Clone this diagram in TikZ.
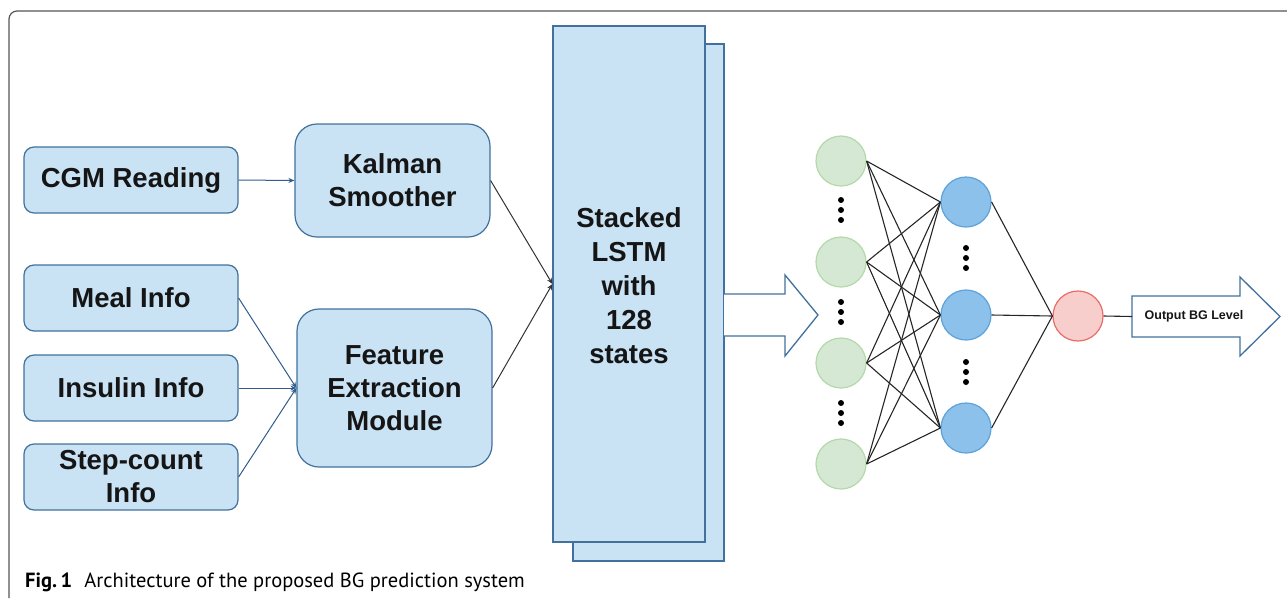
\documentclass[tikz,border=0pt]{standalone}
\usepackage{fontspec}
\setmainfont{Liberation Sans}
\newfontfamily\capfont{PT Sans}
\usetikzlibrary{arrows.meta}
\definecolor{boxfill}{HTML}{C9E2F4}
\definecolor{boxline}{HTML}{41719C}
\definecolor{inline}{HTML}{2F5C8A}
\definecolor{greenfill}{HTML}{D5E8D4}
\definecolor{greenline}{HTML}{B3D9A8}
\definecolor{bluefill}{HTML}{8BC1EA}
\definecolor{blueline}{HTML}{5DA2DA}
\definecolor{redfill}{HTML}{F8CECC}
\definecolor{redline}{HTML}{EA6B66}
\definecolor{txt}{HTML}{151515}
\definecolor{framec}{HTML}{555555}
\begin{document}
\begin{tikzpicture}[x=1pt,y=-1pt,
  inbox/.style={draw=boxline, fill=boxfill, line width=1.2pt, rounded corners=10pt,
    minimum width=214pt, minimum height=66pt, inner sep=0pt, align=center,
    text=txt, font=\fontsize{27.5}{33}\selectfont\bfseries},
  procbox/.style={draw=boxline, fill=boxfill, line width=1.2pt, rounded corners=22pt,
    minimum width=195pt, inner sep=0pt, align=center,
    text=txt, font=\fontsize{27.5}{33}\selectfont\bfseries},
  lstmbox/.style={draw=boxline, fill=boxfill, line width=1.2pt, inner sep=0pt},
  feed/.style={draw=inline, line width=1pt, -{Stealth[length=6pt,width=5pt]}},
  merge/.style={draw=black!80, line width=1pt, -{Stealth[length=6pt,width=5pt]}},
  hollow/.style={draw=boxline, line width=1.3pt, line join=miter},
  gnode/.style={circle, draw=greenline, fill=greenfill, line width=1.2pt, minimum size=50pt, inner sep=0pt},
  bnode/.style={circle, draw=blueline, fill=bluefill, line width=1.2pt, minimum size=50pt, inner sep=0pt},
  rnode/.style={circle, draw=redline, fill=redfill, line width=1.2pt, minimum size=50pt, inner sep=0pt},
  wire/.style={draw=black!85, line width=1.1pt},
  vdot/.style={circle, fill=black, minimum size=6pt, inner sep=0pt}
]
\useasboundingbox (0,0) rectangle (1287,598);
% frame
\draw[framec, line width=1.2pt, rounded corners=8pt] (9,598) -- (9,11) -- (1287,11);

% input boxes
\node[inbox] (cgm) at (131,180) {\raisebox{-3pt}{CGM Reading}};
\node[inbox] (meal) at (131,298) {Meal Info};
\node[inbox] (ins) at (131,388) {Insulin Info};
\node[inbox] (step) at (131,477) {Step-count\\Info};

% processing boxes
\node[procbox, minimum height=113pt] (kal) at (392.5,180.5) {Kalman\\Smoother};
\node[procbox, minimum height=158pt] (feat) at (394.5,388) {Feature\\Extraction\\Module};

% LSTM stack
\node[lstmbox, minimum width=151pt, minimum height=517pt] (lstmback) at (648.5,302.5) {};
\node[lstmbox, minimum width=152pt, minimum height=516pt] (lstm) at (629,284) {};
\node[align=center, text=txt, font=\fontsize{27.5}{34}\selectfont\bfseries] (lstmtxt) at (629,286)
  {Stacked\\LSTM\\with\\128\\states};

% connectors on the left
\draw[feed] (cgm.east) -- (kal.west);
\draw[feed] (meal.east) -- (feat.west);
\draw[feed] (ins.east) -- (feat.west);
\draw[feed] (step.east) -- (feat.west);
\draw[merge] (kal.east) -- (lstm.west);
\draw[merge] (feat.east) -- (lstm.west);

% hollow arrow from LSTM
\coordinate (a0) at (724,294);
\draw[hollow, fill=white] (a0) -- (785,294) -- (785,275) -- (818,315) -- (785,356) -- (785,336) -- (724,336);

% neural network nodes
\node[gnode] (g1) at (841,161) {};
\node[gnode] (g2) at (841,262) {};
\node[gnode] (g3) at (841,363) {};
\node[gnode] (g4) at (841,464) {};
\node[bnode] (b1) at (966,202) {};
\node[bnode] (b2) at (966,315) {};
\node[bnode] (b3) at (966,428) {};
\node[rnode] (r1) at (1078,316) {};

% ellipsis dots
\foreach \y [count=\i] in {200,302,403} {
  \node[vdot] (gd\i a) at (841,\y) {};
  \node[vdot] (gd\i b) at (841,\y+10) {};
  \node[vdot] (gd\i c) at (841,\y+20) {};
}
\foreach \y [count=\i] in {248,362} {
  \node[vdot] (bd\i a) at (966,\y) {};
  \node[vdot] (bd\i b) at (966,\y+10) {};
  \node[vdot] (bd\i c) at (966,\y+20) {};
}

% wires
\foreach \g in {g1,g2,g3,g4}
  \foreach \b in {b1,b2,b3}
    \draw[wire] (\g.east) -- (\b.west);
\foreach \b in {b1,b2,b3}
  \draw[wire] (\b.east) -- (r1.west);

% output arrow
\coordinate (o0) at (1132,316.5);
\draw[hollow, fill=white] (1132,296) -- (1240,296) -- (1240,277) -- (1280,316.5) -- (1240,356) -- (1240,337) -- (1132,337) -- cycle;
\node[text=txt, font=\fontsize{12.5}{15}\selectfont\bfseries] (outtxt) at (1194,316.5) {Output BG Level};
\draw[wire] (r1.east) -- (o0);

% caption
\node[anchor=base west, inner sep=0pt, text=black, font=\capfont\fontsize{20.5}{24}\selectfont] (cap) at (25,587)
  {\textbf{Fig.\,1}\hspace{0.6em}Architecture of the proposed BG prediction system};
\end{tikzpicture}
\end{document}
